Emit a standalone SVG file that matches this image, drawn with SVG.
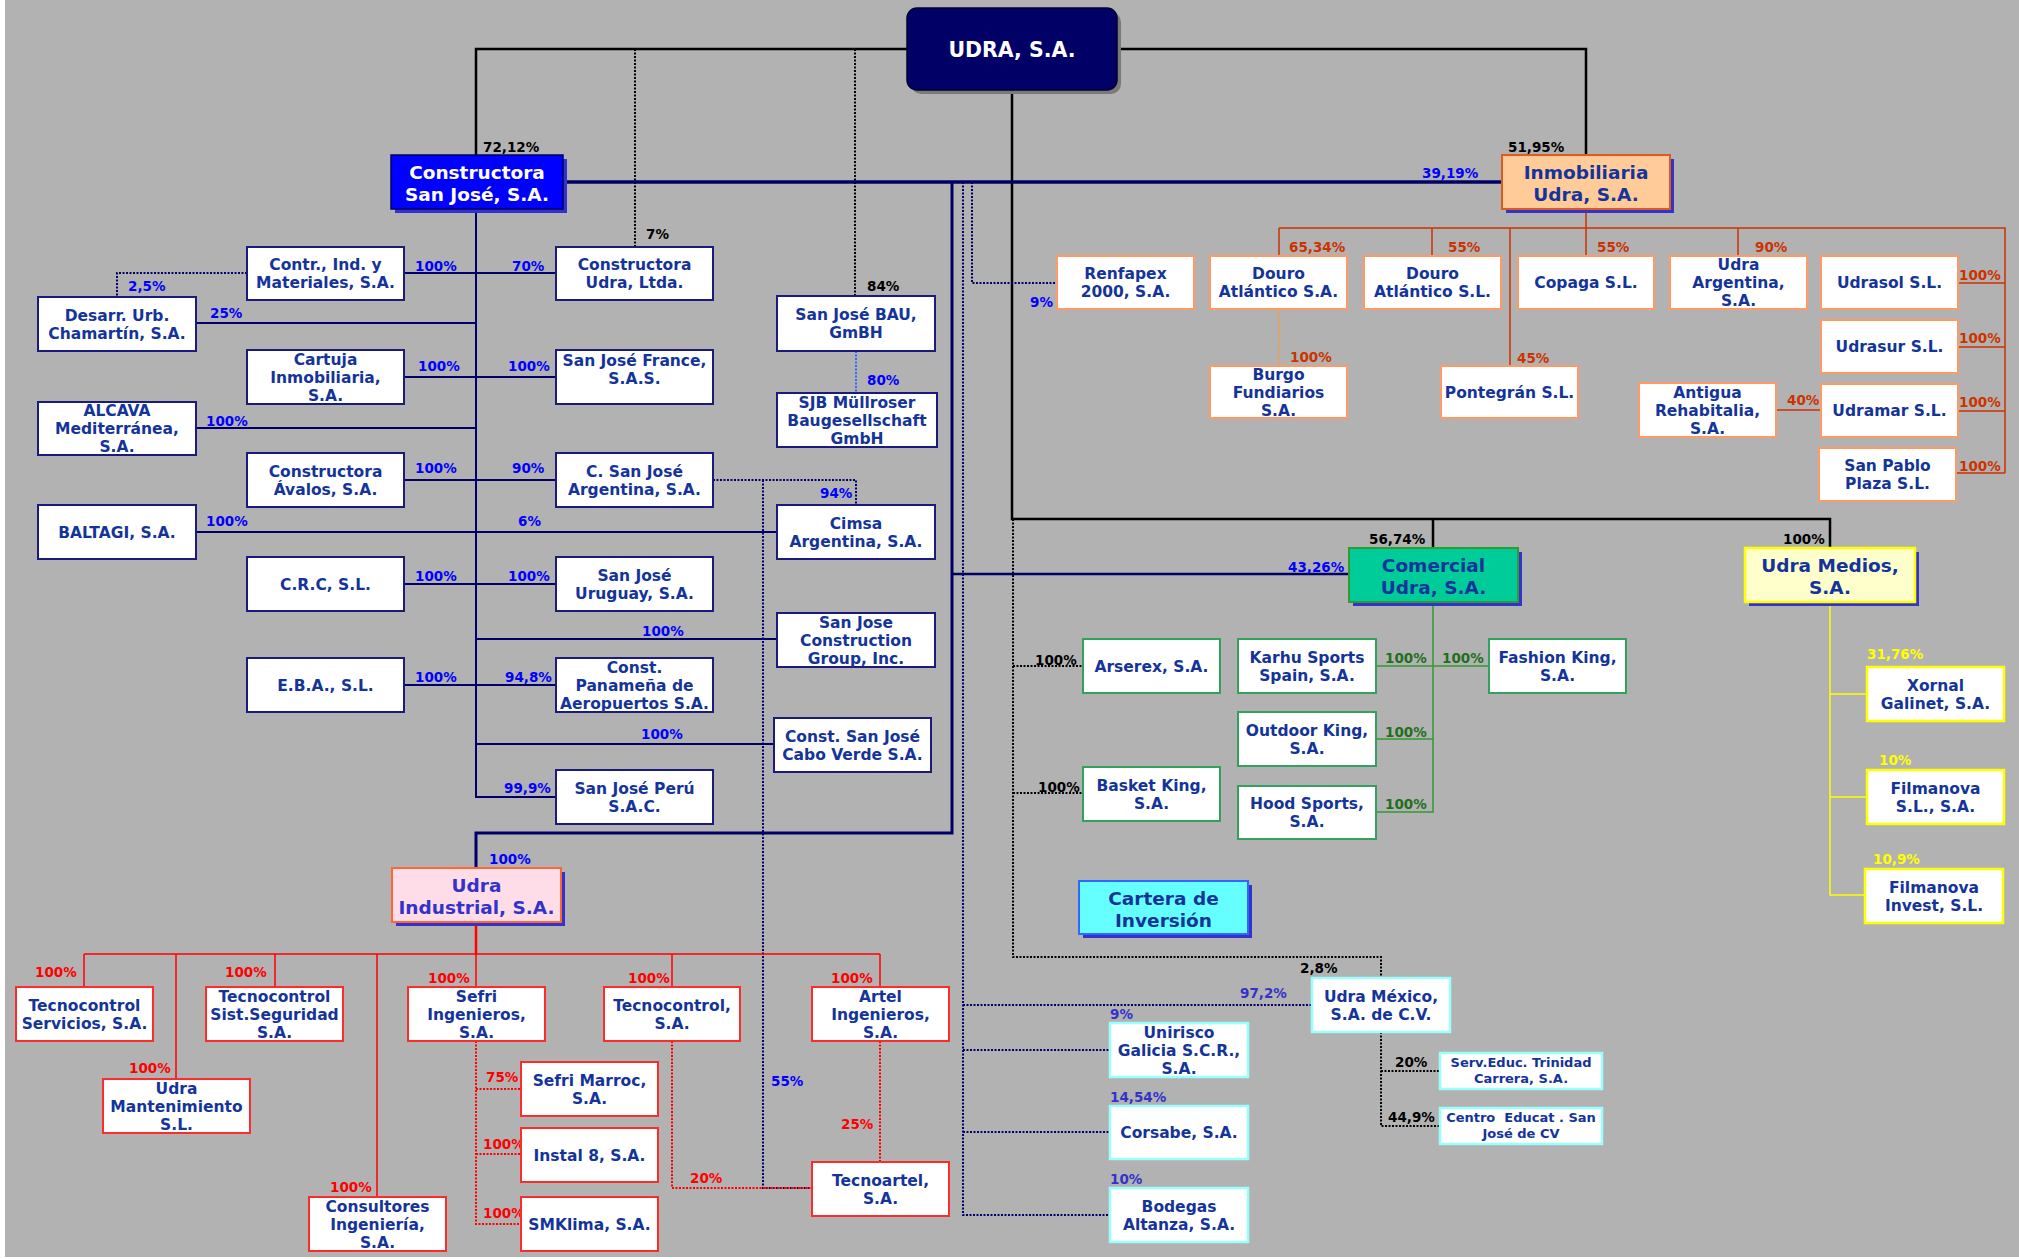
<svg xmlns="http://www.w3.org/2000/svg" width="2019" height="1259" viewBox="0 0 2019 1259">
<style>
text{font-family:"DejaVu Sans","Liberation Sans",sans-serif;font-weight:bold}
.t{font-size:15.5px;fill:#14349a;text-anchor:middle}
.ts{font-size:13px;fill:#14349a;text-anchor:middle}
.h{font-size:18.5px;fill:#14349a;text-anchor:middle}
.p{font-size:13.5px}
.k{fill:#000}.b{fill:#0000ff}.o{fill:#cc3300}.g{fill:#1f6f1f}.y{fill:#ffff00}.r{fill:#ff0000}.v{fill:#3333cc}
rect.nv{fill:#fff;stroke:#1a1a80;stroke-width:2}
rect.or{fill:#fff;stroke:#ff9966;stroke-width:2}
rect.gr{fill:#fff;stroke:#33a060;stroke-width:2}
rect.yl{fill:#fff;stroke:#ffff00;stroke-width:2.5}
rect.cy{fill:#fff;stroke:#99ffff;stroke-width:2.5}
rect.rd{fill:#fff;stroke:#ff2a2a;stroke-width:2}
rect.sh{fill:#3333cc}
path{fill:none}
.cb{stroke:#000;stroke-width:2.5}
.cbd{stroke:#000;stroke-width:2;stroke-dasharray:2 1.5}
.cn{stroke:#000066;stroke-width:2}
.cnd{stroke:#000066;stroke-width:2;stroke-dasharray:2 1.5}
.cbl{stroke:#3366ff;stroke-width:2;stroke-dasharray:2 1.5}
.co{stroke:#cc3300;stroke-width:1.5}
.cod{stroke:#ff9933;stroke-width:1.5;stroke-dasharray:2 1.5}
.cg{stroke:#339933;stroke-width:1.5}
.cy2{stroke:#ffff00;stroke-width:1.5}
.cr{stroke:#ff0000;stroke-width:1.5}
.crd{stroke:#ff0000;stroke-width:2;stroke-dasharray:2 1.5}
</style>
<rect x="0" y="0" width="2019" height="1259" fill="#ffffff"/>
<rect x="5" y="0" width="2014" height="1257" fill="#b2b2b2"/>

<g id="connectors">
<path class="cb" d="M476 155V49H907M1117 49H1586V155M1012 90V519H1830V548M1433 519V548"/>
<path class="cbd" d="M635 49V247M855 49V296M1013 519V957H1381V978M1013 666H1083M1013 793H1083M1381 1032V1126H1440M1381 1071H1440"/>
<path class="cn" style="stroke-width:3.5" d="M563 182H1502"/>
<path class="cn" d="M476 209V797H556M404 273H556M196 323H476M404 377H556M196 428H476M404 480H556M196 532H777M404 584H556M476 639H777M404 685H556M476 744H774"/>
<path class="cn" style="stroke-width:3" d="M952 182V833H476V868"/>
<path class="cn" style="stroke-width:2.5" d="M952 574H1349"/>
<path class="cnd" d="M247 273H117V297M963 182V1215H1110M963 1005H1312M963 1050H1110M963 1132H1110M972 182V283H1057M713 480H856V505M763 480V1188H812"/>
<path class="cbl" d="M856 351V393"/>
<path class="co" d="M1586 209V228M1279 228H2005V473M1279 228V256M1432 228V256M1586 228V256M1738 228V256M1510 228V366M1958 283H2005M1958 347H2005M1958 411H2005M1956 473H2005M1776 410H1821"/>
<path class="cod" d="M1279 309V366"/>
<path class="cg" d="M1433 602V812H1376M1376 666H1489M1376 739H1433"/>
<path class="cy2" d="M1830 602V895H1865M1830 694H1867M1830 797H1867"/>
<path class="cr" style="stroke-width:2.5" d="M476 922V954"/>
<path class="cr" d="M84 954H880M84 954V987M176 954V1079M275 954V987M377 954V1197M476 954V987M672 954V987M880 954V987"/>
<path class="crd" d="M476 1041V1224H521M476 1089H521M476 1154H521M880 1041V1162M672 1041V1188H812"/>
</g>

<g id="labels">
<text class="p k" x="483" y="152">72,12%</text>
<text class="p k" x="646" y="239">7%</text>
<text class="p k" x="867" y="291">84%</text>
<text class="p k" x="1508" y="152">51,95%</text>
<text class="p k" x="1369" y="544">56,74%</text>
<text class="p k" x="1783" y="544">100%</text>
<text class="p k" x="1035" y="665">100%</text>
<text class="p k" x="1038" y="792">100%</text>
<text class="p k" x="1300" y="973">2,8%</text>
<text class="p k" x="1395" y="1067">20%</text>
<text class="p k" x="1388" y="1122">44,9%</text>
<text class="p b" x="1422" y="178">39,19%</text>
<text class="p b" x="1288" y="572">43,26%</text>
<text class="p b" x="1030" y="307">9%</text>
<text class="p b" x="867" y="385">80%</text>
<text class="p b" x="820" y="498">94%</text>
<text class="p b" x="771" y="1086">55%</text>
<text class="p b" x="128" y="291">2,5%</text>
<text class="p b" x="415" y="271">100%</text>
<text class="p b" x="512" y="271">70%</text>
<text class="p b" x="210" y="318">25%</text>
<text class="p b" x="418" y="371">100%</text>
<text class="p b" x="508" y="371">100%</text>
<text class="p b" x="206" y="426">100%</text>
<text class="p b" x="415" y="473">100%</text>
<text class="p b" x="512" y="473">90%</text>
<text class="p b" x="206" y="526">100%</text>
<text class="p b" x="518" y="526">6%</text>
<text class="p b" x="415" y="581">100%</text>
<text class="p b" x="508" y="581">100%</text>
<text class="p b" x="642" y="636">100%</text>
<text class="p b" x="415" y="682">100%</text>
<text class="p b" x="505" y="682">94,8%</text>
<text class="p b" x="641" y="739">100%</text>
<text class="p b" x="504" y="793">99,9%</text>
<text class="p b" x="489" y="864">100%</text>
<text class="p o" x="1289" y="252">65,34%</text>
<text class="p o" x="1448" y="252">55%</text>
<text class="p o" x="1597" y="252">55%</text>
<text class="p o" x="1755" y="252">90%</text>
<text class="p o" x="1290" y="362">100%</text>
<text class="p o" x="1517" y="363">45%</text>
<text class="p o" x="1959" y="280">100%</text>
<text class="p o" x="1959" y="343">100%</text>
<text class="p o" x="1959" y="407">100%</text>
<text class="p o" x="1959" y="471">100%</text>
<text class="p o" x="1787" y="405">40%</text>
<text class="p g" x="1385" y="663">100%</text>
<text class="p g" x="1442" y="663">100%</text>
<text class="p g" x="1385" y="737">100%</text>
<text class="p g" x="1385" y="809">100%</text>
<text class="p y" x="1867" y="659">31,76%</text>
<text class="p y" x="1879" y="765">10%</text>
<text class="p y" x="1873" y="864">10,9%</text>
<text class="p r" x="35" y="977">100%</text>
<text class="p r" x="225" y="977">100%</text>
<text class="p r" x="129" y="1073">100%</text>
<text class="p r" x="330" y="1192">100%</text>
<text class="p r" x="428" y="983">100%</text>
<text class="p r" x="628" y="983">100%</text>
<text class="p r" x="831" y="983">100%</text>
<text class="p r" x="486" y="1082">75%</text>
<text class="p r" x="483" y="1149">100%</text>
<text class="p r" x="483" y="1218">100%</text>
<text class="p r" x="841" y="1129">25%</text>
<text class="p r" x="690" y="1183">20%</text>
<text class="p v" x="1240" y="998">97,2%</text>
<text class="p v" x="1110" y="1019">9%</text>
<text class="p v" x="1110" y="1102">14,54%</text>
<text class="p v" x="1110" y="1184">10%</text>
</g>

<g id="udra">
<rect x="911" y="12" width="210" height="82" rx="10" fill="#7a7a7a"/>
<rect x="907" y="8" width="210" height="82" rx="10" fill="#000066" stroke="#000033" stroke-width="1.5"/>
<text class="h" x="1012" y="57" style="fill:#fff;font-size:20.5px">UDRA, S.A.</text>
</g>
<g id="csj">
<rect class="sh" x="395" y="159" width="172" height="54"/>
<rect x="391" y="155" width="172" height="54" fill="#0000ff" stroke="#000066" stroke-width="1.5"/>
<text class="h" x="477" y="179" style="fill:#fff">Constructora</text>
<text class="h" x="477" y="201" style="fill:#fff">San José, S.A.</text>
</g>
<g id="inmobiliaria">
<rect class="sh" x="1506" y="159" width="168" height="54"/>
<rect x="1502" y="155" width="168" height="54" fill="#ffcc99" stroke="#e05a20" stroke-width="2"/>
<text class="h" x="1586" y="179">Inmobiliaria</text>
<text class="h" x="1586" y="201">Udra, S.A.</text>
</g>
<g id="comercial">
<rect class="sh" x="1353" y="552" width="169" height="54"/>
<rect x="1349" y="548" width="169" height="54" fill="#00cc99" stroke="#339933" stroke-width="2"/>
<text class="h" x="1433.5" y="571.5">Comercial</text>
<text class="h" x="1433.5" y="593.5">Udra, S.A.</text>
</g>
<g id="medios">
<rect class="sh" x="1749" y="552" width="170" height="54"/>
<rect x="1745" y="548" width="170" height="54" fill="#ffffcc" stroke="#ffff00" stroke-width="2.5"/>
<text class="h" x="1830" y="571.5">Udra Medios,</text>
<text class="h" x="1830" y="593.5">S.A.</text>
</g>
<g id="industrial">
<rect class="sh" x="396" y="872" width="169" height="54"/>
<rect x="392" y="868" width="169" height="54" fill="#ffdde8" stroke="#ff6633" stroke-width="2"/>
<text class="h" x="476.5" y="891.5" style="fill:#3333cc">Udra</text>
<text class="h" x="476.5" y="913.5" style="fill:#3333cc">Industrial, S.A.</text>
</g>
<g id="cartera">
<rect class="sh" x="1083" y="885" width="169" height="53"/>
<rect x="1079" y="881" width="169" height="53" fill="#66ffff" stroke="#3366ff" stroke-width="2"/>
<text class="h" x="1163.5" y="904.5">Cartera de</text>
<text class="h" x="1163.5" y="926.5">Inversión</text>
</g>

<g id="n1"><rect class="nv" x="247" y="247" width="157" height="53"/><text class="t" x="325.5" y="270">Contr., Ind. y</text><text class="t" x="325.5" y="288">Materiales, S.A.</text></g>
<g id="n2"><rect class="nv" x="556" y="247" width="157" height="53"/><text class="t" x="634.5" y="270">Constructora</text><text class="t" x="634.5" y="288">Udra, Ltda.</text></g>
<g id="n3"><rect class="nv" x="38" y="297" width="158" height="54"/><text class="t" x="117" y="320.5">Desarr. Urb.</text><text class="t" x="117" y="338.5">Chamartín, S.A.</text></g>
<g id="n4"><rect class="nv" x="247" y="350" width="157" height="54"/><text class="t" x="325.5" y="364.5">Cartuja</text><text class="t" x="325.5" y="382.5">Inmobiliaria,</text><text class="t" x="325.5" y="400.5">S.A.</text></g>
<g id="n5"><rect class="nv" x="556" y="350" width="157" height="54"/><text class="t" x="634.5" y="365.5">San José France,</text><text class="t" x="634.5" y="383.5">S.A.S.</text></g>
<g id="n6"><rect class="nv" x="38" y="402" width="158" height="53"/><text class="t" x="117" y="416">ALCAVA</text><text class="t" x="117" y="434">Mediterránea,</text><text class="t" x="117" y="452">S.A.</text></g>
<g id="n7"><rect class="nv" x="247" y="453" width="157" height="54"/><text class="t" x="325.5" y="476.5">Constructora</text><text class="t" x="325.5" y="494.5">Ávalos, S.A.</text></g>
<g id="n8"><rect class="nv" x="556" y="453" width="157" height="54"/><text class="t" x="634.5" y="476.5">C. San José</text><text class="t" x="634.5" y="494.5">Argentina, S.A.</text></g>
<g id="n9"><rect class="nv" x="38" y="505" width="158" height="54"/><text class="t" x="117" y="537.5">BALTAGI, S.A.</text></g>
<g id="n10"><rect class="nv" x="247" y="557" width="157" height="54"/><text class="t" x="325.5" y="589.5">C.R.C, S.L.</text></g>
<g id="n11"><rect class="nv" x="556" y="557" width="157" height="54"/><text class="t" x="634.5" y="580.5">San José</text><text class="t" x="634.5" y="598.5">Uruguay, S.A.</text></g>
<g id="n12"><rect class="nv" x="247" y="658" width="157" height="54"/><text class="t" x="325.5" y="690.5">E.B.A., S.L.</text></g>
<g id="n13"><rect class="nv" x="556" y="658" width="157" height="54"/><text class="t" x="634.5" y="672.5">Const.</text><text class="t" x="634.5" y="690.5">Panameña de</text><text class="t" x="634.5" y="708.5">Aeropuertos S.A.</text></g>
<g id="n14"><rect class="nv" x="556" y="770" width="157" height="54"/><text class="t" x="634.5" y="793.5">San José Perú</text><text class="t" x="634.5" y="811.5">S.A.C.</text></g>
<g id="n15"><rect class="nv" x="777" y="296" width="158" height="55"/><text class="t" x="856" y="320">San José BAU,</text><text class="t" x="856" y="338">GmBH</text></g>
<g id="n16"><rect class="nv" x="777" y="393" width="160" height="54"/><text class="t" x="857" y="407.5">SJB Müllroser</text><text class="t" x="857" y="425.5">Baugesellschaft</text><text class="t" x="857" y="443.5">GmbH</text></g>
<g id="n17"><rect class="nv" x="777" y="505" width="158" height="54"/><text class="t" x="856" y="528.5">Cimsa</text><text class="t" x="856" y="546.5">Argentina, S.A.</text></g>
<g id="n18"><rect class="nv" x="777" y="613" width="158" height="54"/><text class="t" x="856" y="627.5">San Jose</text><text class="t" x="856" y="645.5">Construction</text><text class="t" x="856" y="663.5">Group, Inc.</text></g>
<g id="n19"><rect class="nv" x="774" y="718" width="157" height="54"/><text class="t" x="852.5" y="741.5">Const. San José</text><text class="t" x="852.5" y="759.5">Cabo Verde S.A.</text></g>

<g id="n20"><rect class="or" x="1057" y="256" width="137" height="53"/><text class="t" x="1125.5" y="279">Renfapex</text><text class="t" x="1125.5" y="297">2000, S.A.</text></g>
<g id="n21"><rect class="or" x="1210" y="256" width="137" height="53"/><text class="t" x="1278.5" y="279">Douro</text><text class="t" x="1278.5" y="297">Atlántico S.A.</text></g>
<g id="n22"><rect class="or" x="1210" y="366" width="137" height="52"/><text class="t" x="1278.5" y="380">Burgo</text><text class="t" x="1278.5" y="398">Fundiarios</text><text class="t" x="1278.5" y="416">S.A.</text></g>
<g id="n23"><rect class="or" x="1364" y="256" width="137" height="53"/><text class="t" x="1432.5" y="279">Douro</text><text class="t" x="1432.5" y="297">Atlántico S.L.</text></g>
<g id="n24"><rect class="or" x="1518" y="256" width="136" height="53"/><text class="t" x="1586" y="288">Copaga S.L.</text></g>
<g id="n25"><rect class="or" x="1670" y="256" width="137" height="53"/><text class="t" x="1738.5" y="270">Udra</text><text class="t" x="1738.5" y="288">Argentina,</text><text class="t" x="1738.5" y="306">S.A.</text></g>
<g id="n26"><rect class="or" x="1821" y="256" width="137" height="53"/><text class="t" x="1889.5" y="288">Udrasol S.L.</text></g>
<g id="n27"><rect class="or" x="1821" y="320" width="137" height="53"/><text class="t" x="1889.5" y="352">Udrasur S.L.</text></g>
<g id="n28"><rect class="or" x="1441" y="366" width="137" height="52"/><text class="t" x="1509.5" y="397.5">Pontegrán S.L.</text></g>
<g id="n29"><rect class="or" x="1639" y="383" width="137" height="54"/><text class="t" x="1707.5" y="397.5">Antigua</text><text class="t" x="1707.5" y="415.5">Rehabitalia,</text><text class="t" x="1707.5" y="433.5">S.A.</text></g>
<g id="n30"><rect class="or" x="1821" y="384" width="137" height="53"/><text class="t" x="1889.5" y="416">Udramar S.L.</text></g>
<g id="n31"><rect class="or" x="1819" y="448" width="137" height="53"/><text class="t" x="1887.5" y="471">San Pablo</text><text class="t" x="1887.5" y="489">Plaza S.L.</text></g>

<g id="n32"><rect class="gr" x="1083" y="639" width="137" height="54"/><text class="t" x="1151.5" y="671.5">Arserex, S.A.</text></g>
<g id="n33"><rect class="gr" x="1238" y="639" width="138" height="54"/><text class="t" x="1307" y="662.5">Karhu Sports</text><text class="t" x="1307" y="680.5">Spain, S.A.</text></g>
<g id="n34"><rect class="gr" x="1489" y="639" width="137" height="54"/><text class="t" x="1557.5" y="662.5">Fashion King,</text><text class="t" x="1557.5" y="680.5">S.A.</text></g>
<g id="n35"><rect class="gr" x="1238" y="712" width="138" height="54"/><text class="t" x="1307" y="735.5">Outdoor King,</text><text class="t" x="1307" y="753.5">S.A.</text></g>
<g id="n36"><rect class="gr" x="1083" y="767" width="137" height="54"/><text class="t" x="1151.5" y="790.5">Basket King,</text><text class="t" x="1151.5" y="808.5">S.A.</text></g>
<g id="n37"><rect class="gr" x="1238" y="786" width="138" height="53"/><text class="t" x="1307" y="809">Hood Sports,</text><text class="t" x="1307" y="827">S.A.</text></g>

<g id="n38"><rect class="yl" x="1867" y="667" width="137" height="54"/><text class="t" x="1935.5" y="690.5">Xornal</text><text class="t" x="1935.5" y="708.5">Galinet, S.A.</text></g>
<g id="n39"><rect class="yl" x="1867" y="770" width="137" height="54"/><text class="t" x="1935.5" y="793.5">Filmanova</text><text class="t" x="1935.5" y="811.5">S.L., S.A.</text></g>
<g id="n40"><rect class="yl" x="1865" y="869" width="138" height="54"/><text class="t" x="1934" y="892.5">Filmanova</text><text class="t" x="1934" y="910.5">Invest, S.L.</text></g>

<g id="n41"><rect class="cy" x="1312" y="978" width="138" height="54"/><text class="t" x="1381" y="1001.5">Udra México,</text><text class="t" x="1381" y="1019.5">S.A. de C.V.</text></g>
<g id="n42"><rect class="cy" x="1110" y="1023" width="138" height="54"/><text class="t" x="1179" y="1037.5">Unirisco</text><text class="t" x="1179" y="1055.5">Galicia S.C.R.,</text><text class="t" x="1179" y="1073.5">S.A.</text></g>
<g id="n43"><rect class="cy" x="1110" y="1106" width="138" height="53"/><text class="t" x="1179" y="1138">Corsabe, S.A.</text></g>
<g id="n44"><rect class="cy" x="1110" y="1188" width="138" height="54"/><text class="t" x="1179" y="1211.5">Bodegas</text><text class="t" x="1179" y="1229.5">Altanza, S.A.</text></g>
<g id="n45"><rect class="cy" x="1440" y="1053" width="162" height="36"/><text class="ts" x="1521" y="1067">Serv.Educ. Trinidad</text><text class="ts" x="1521" y="1083">Carrera, S.A.</text></g>
<g id="n46"><rect class="cy" x="1440" y="1108" width="162" height="36"/><text class="ts" x="1521" y="1122" xml:space="preserve">Centro  Educat . San</text><text class="ts" x="1521" y="1138">José de CV</text></g>

<g id="n47"><rect class="rd" x="16" y="987" width="137" height="54"/><text class="t" x="84.5" y="1010.5">Tecnocontrol</text><text class="t" x="84.5" y="1028.5">Servicios, S.A.</text></g>
<g id="n48"><rect class="rd" x="103" y="1079" width="147" height="54"/><text class="t" x="176.5" y="1093.5">Udra</text><text class="t" x="176.5" y="1111.5">Mantenimiento</text><text class="t" x="176.5" y="1129.5">S.L.</text></g>
<g id="n49"><rect class="rd" x="206" y="987" width="137" height="54"/><text class="t" x="274.5" y="1001.5">Tecnocontrol</text><text class="t" x="274.5" y="1019.5">Sist.Seguridad</text><text class="t" x="274.5" y="1037.5">S.A.</text></g>
<g id="n50"><rect class="rd" x="309" y="1197" width="137" height="54"/><text class="t" x="377.5" y="1211.5">Consultores</text><text class="t" x="377.5" y="1229.5">Ingeniería,</text><text class="t" x="377.5" y="1247.5">S.A.</text></g>
<g id="n51"><rect class="rd" x="408" y="987" width="137" height="54"/><text class="t" x="476.5" y="1001.5">Sefri</text><text class="t" x="476.5" y="1019.5">Ingenieros,</text><text class="t" x="476.5" y="1037.5">S.A.</text></g>
<g id="n52"><rect class="rd" x="604" y="987" width="136" height="54"/><text class="t" x="672" y="1010.5">Tecnocontrol,</text><text class="t" x="672" y="1028.5">S.A.</text></g>
<g id="n53"><rect class="rd" x="812" y="987" width="137" height="54"/><text class="t" x="880.5" y="1001.5">Artel</text><text class="t" x="880.5" y="1019.5">Ingenieros,</text><text class="t" x="880.5" y="1037.5">S.A.</text></g>
<g id="n54"><rect class="rd" x="521" y="1062" width="137" height="54"/><text class="t" x="589.5" y="1085.5">Sefri Marroc,</text><text class="t" x="589.5" y="1103.5">S.A.</text></g>
<g id="n55"><rect class="rd" x="521" y="1128" width="137" height="54"/><text class="t" x="589.5" y="1160.5">Instal 8, S.A.</text></g>
<g id="n56"><rect class="rd" x="521" y="1197" width="137" height="54"/><text class="t" x="589.5" y="1229.5">SMKlima, S.A.</text></g>
<g id="n57"><rect class="rd" x="812" y="1162" width="137" height="54"/><text class="t" x="880.5" y="1185.5">Tecnoartel,</text><text class="t" x="880.5" y="1203.5">S.A.</text></g>
</svg>
